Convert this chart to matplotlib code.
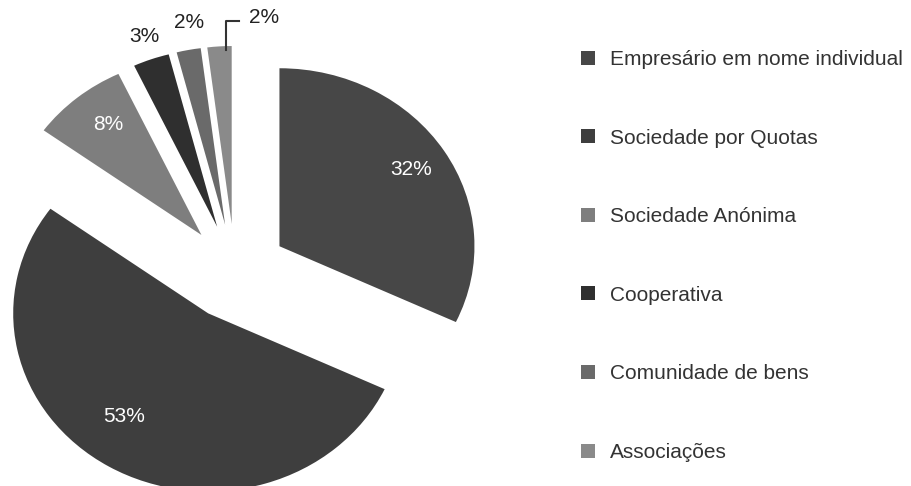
import numpy as np
import matplotlib
matplotlib.use('Agg')
import matplotlib.pyplot as plt

plt.rcParams['font.family'] = ['Liberation Sans', 'DejaVu Sans']

# Data
labels = ['Empresário em nome individual', 'Sociedade por Quotas', 'Sociedade Anónima',
          'Cooperativa', 'Comunidade de bens', 'Associações']
values = [32, 53, 8, 3, 2, 2]
colors = ['#474747', '#3e3e3e', '#7e7e7e', '#2f2f2f', '#6a6a6a', '#8a8a8a']

W, H = 911, 486
fig = plt.figure(figsize=(W / 100, H / 100), dpi=100)

# pie centre at pixel (235, 272); stretched: 195 px/unit across, 178 px/unit up
cx, cy, sx, sy = 235, 272, 195, 178
x0, x1, y0, y1 = -1.2, 1.3, -1.3, 1.5
ax = fig.add_axes([(cx + x0 * sx) / W, (H - cy + y0 * sy) / H,
                   (x1 - x0) * sx / W, (y1 - y0) * sy / H])

wedges, texts, autotexts = ax.pie(values, colors=colors, startangle=90, counterclock=False,
                                  explode=[0.27] * len(values), autopct='%.0f%%', pctdistance=0.79,
                                  wedgeprops=dict(linewidth=0),
                                  textprops=dict(fontsize=15, color='white'))
ax.set_aspect('auto')
ax.set_xlim(x0, x1)
ax.set_ylim(y0, y1)
ax.axis('off')


def place(i, d, shift=0.0):
    w = wedges[i]
    a = np.deg2rad((w.theta1 + w.theta2) / 2 + shift)
    autotexts[i].set_position((w.center[0] + d * np.cos(a), w.center[1] + d * np.sin(a)))


place(0, 0.8)
place(1, 0.72, -6)
place(2, 0.78, -2)

# small slices: labels outside
place(3, 1.13, -0.5)
place(4, 1.15, -1.5)
for i in (3, 4, 5):
    autotexts[i].set_color('#222222')

w = wedges[5]
a = np.deg2rad((w.theta1 + w.theta2) / 2)
px = w.center[0] + 0.97 * np.cos(a) + 0.03
py0 = w.center[1] + 0.98 * np.sin(a)
py1 = py0 + 0.16
ax.plot([px, px, px + 0.07], [py0, py1, py1], color='#333333', lw=1.5, clip_on=False)
autotexts[5].set_position((px + 0.12, py1 + 0.02))
autotexts[5].set_ha('left')

leg = ax.legend(wedges, labels, loc='upper left', bbox_to_anchor=(581 / W, 1 - 50 / H),
                bbox_transform=fig.transFigure, frameon=False, fontsize=15,
                handlelength=0.65, handleheight=0.65, handletextpad=0.75,
                labelspacing=2.86, borderpad=0, borderaxespad=0)
for t in leg.get_texts():
    t.set_color('#333333')

fig.savefig('out.png', dpi=100)
